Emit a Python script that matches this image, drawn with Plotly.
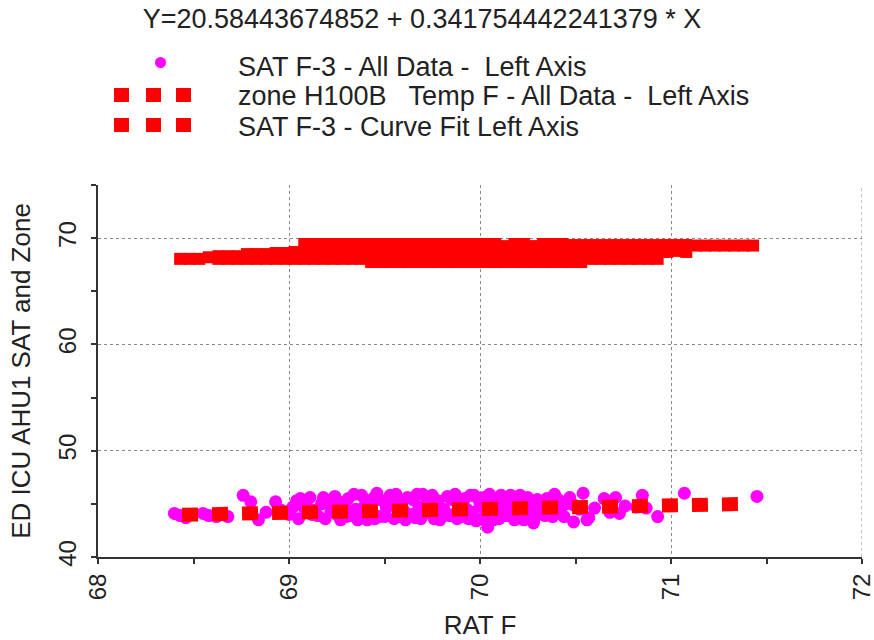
import plotly.graph_objects as go

# ---------------- data ----------------
title_text = "Y=20.58443674852 + 0.341754442241379 * X"
legend_labels = [
    "SAT F-3 - All Data -  Left Axis",
    "zone H100B   Temp F - All Data -  Left Axis",
    "SAT F-3 - Curve Fit Left Axis",
]
x_title = "RAT F"
y_title = "ED ICU AHU1 SAT and Zone"

# SAT F-3 (magenta points)
sat_x = [68.40, 68.43, 68.46, 68.55, 68.58, 68.62, 68.68, 68.76, 68.80, 68.84, 68.88, 68.93, 68.96, 69.02, 69.04,
         69.06, 69.08, 69.11, 69.12, 69.15, 69.17, 69.20, 69.22, 69.24, 69.27, 69.29, 69.31, 69.33, 69.35, 69.38,
         69.40, 69.41, 69.43, 69.46, 69.47, 69.49, 69.51, 69.53, 69.55, 69.57, 69.58, 69.60, 69.62, 69.65, 69.66,
         69.68, 69.70, 69.72, 69.74, 69.76, 69.77, 69.79, 69.81, 69.83, 69.85, 69.86, 69.88, 69.90, 69.91, 69.93,
         69.95, 69.97, 69.98, 70.00, 70.02, 70.04, 70.04, 70.06, 70.07, 70.09, 70.11, 70.13, 70.16, 70.18, 70.20,
         70.22, 70.24, 70.26, 70.28, 70.30, 70.33, 70.35, 70.38, 70.41, 70.42, 70.45, 70.49, 70.49, 70.52,
         70.54, 70.56, 70.57, 70.60, 70.65, 70.68, 70.71, 70.73, 70.76, 70.82, 70.85, 70.87, 70.93, 71.07, 71.45,
         69.00, 69.05, 69.09, 69.13, 69.18, 69.19, 69.25, 69.26, 69.30, 69.34, 69.36, 69.39, 69.44, 69.45,
         69.50, 69.52, 69.56, 69.59, 69.61, 69.64, 69.67, 69.69, 69.71, 69.75, 69.78, 69.80, 69.84, 69.87,
         69.89, 69.92, 69.94, 69.96, 69.99, 70.01, 70.03, 70.05, 70.08, 70.10, 70.12, 70.14, 70.17, 70.19,
         70.21, 70.23, 70.25, 70.27, 70.29, 70.31, 70.34, 70.36, 70.39, 70.44, 70.47]
sat_y = [44.1, 43.9, 43.7, 44.1, 43.9, 43.8, 43.8, 45.8, 45.2, 43.5, 44.2, 45.2, 44.4, 44.7, 45.3,
         45.5, 44.6, 45.6, 44.0, 43.9, 45.0, 45.1, 44.3, 45.7, 43.5, 44.8, 45.5, 43.9, 44.5, 45.8,
         45.0, 43.5, 44.2, 46.0, 43.8, 45.3, 44.6, 45.8, 43.6, 45.0, 43.8, 44.4, 45.6, 45.4, 43.7,
         44.7, 45.9, 45.6, 44.1, 43.6, 45.1, 43.5, 44.5, 45.7, 45.4, 44.0, 43.6, 43.8, 45.0, 44.5,
         45.8, 45.8, 43.4, 44.8, 45.6, 42.8, 45.4, 44.2, 43.5, 45.1, 45.8, 44.6, 45.8, 43.5, 44.9,
         45.3, 43.9, 44.4, 43.2, 45.4, 44.7, 45.5, 43.8, 45.4, 44.4, 45.0, 44.9, 43.3, 44.5,
         46.0, 43.5, 43.7, 44.6, 45.5, 44.2, 45.6, 44.1, 44.8, 44.7, 45.8, 44.6, 43.8, 46.0, 45.7,
         44.0, 43.6, 45.2, 44.4, 45.6, 43.6, 44.0, 45.2, 43.8, 45.9, 43.5, 44.1, 45.5, 43.6,
         43.8, 45.1, 45.9, 45.2, 43.5, 44.0, 45.9, 43.6, 44.3, 45.8, 45.3, 43.8, 43.9, 45.9,
         44.3, 45.5, 43.6, 44.2, 45.5, 43.6, 44.3, 45.9, 44.0, 43.6, 45.3, 43.9, 45.2, 44.2,
         45.8, 43.5, 45.6, 44.9, 43.8, 44.3, 43.9, 45.0, 45.9, 43.8, 45.6]

# zone H100B Temp F (red squares)
zone_x = [68.43, 68.48, 68.53, 68.58,
          68.63, 68.63, 68.68, 68.68, 68.73, 68.73,
          68.78, 68.78, 68.83, 68.83, 68.88, 68.88,
          68.93, 68.93, 68.98, 68.98, 69.03, 69.03,
          69.08, 69.08, 69.08, 69.13, 69.13, 69.13, 69.18, 69.18, 69.18, 69.23, 69.23, 69.23,
          69.28, 69.28, 69.28, 69.33, 69.33, 69.33, 69.38, 69.38, 69.38,
          69.43, 69.43, 69.43, 69.48, 69.48, 69.48, 69.53, 69.53, 69.53, 69.58, 69.58, 69.58,
          69.63, 69.63, 69.63, 69.68, 69.68, 69.68, 69.73, 69.73, 69.73, 69.78, 69.78, 69.78,
          69.83, 69.83, 69.83, 69.88, 69.88, 69.88, 69.93, 69.93, 69.93, 69.98, 69.98, 69.98,
          70.03, 70.03, 70.03, 70.08, 70.08, 70.08, 70.13, 70.13, 70.13, 70.18, 70.18, 70.18,
          70.23, 70.23, 70.23, 70.28, 70.28, 70.28, 70.33, 70.33, 70.33, 70.38, 70.38, 70.38,
          70.43, 70.43, 70.43, 70.48, 70.48, 70.48, 70.53, 70.53, 70.53,
          70.58, 70.58, 70.58, 70.63, 70.63, 70.63, 70.68, 70.68, 70.68, 70.73, 70.73, 70.73,
          70.78, 70.78, 70.78, 70.83, 70.83, 70.83, 70.88, 70.88, 70.88, 70.93, 70.93, 70.93,
          70.98, 70.98, 71.03, 71.03, 71.08, 71.08,
          71.13, 71.18, 71.23, 71.28, 71.33, 71.38, 71.43]
zone_y = [68.05, 68.05, 68.05, 68.2,
          68.05, 68.3, 68.05, 68.3, 68.05, 68.3,
          68.05, 68.5, 68.05, 68.5, 68.05, 68.5,
          68.05, 68.6, 68.05, 68.6, 68.05, 68.7,
          68.05, 68.75, 69.45, 68.05, 68.75, 69.45, 68.05, 68.75, 69.45, 68.05, 68.75, 69.45,
          68.05, 68.75, 69.45, 68.05, 68.75, 69.45, 68.05, 68.75, 69.45,
          67.75, 68.6, 69.45, 67.75, 68.6, 69.45, 67.75, 68.6, 69.45, 67.75, 68.6, 69.45,
          67.75, 68.6, 69.45, 67.75, 68.6, 69.45, 67.75, 68.6, 69.45, 67.75, 68.6, 69.45,
          67.75, 68.6, 69.45, 67.75, 68.6, 69.45, 67.75, 68.6, 69.45, 67.75, 68.6, 69.45,
          67.75, 68.6, 69.45, 67.75, 68.6, 69.45, 67.75, 68.6, 69.25, 67.75, 68.6, 69.45,
          67.75, 68.6, 69.45, 67.75, 68.6, 69.25, 67.75, 68.6, 69.45, 67.75, 68.6, 69.45,
          67.75, 68.6, 69.45, 67.75, 68.6, 69.35, 67.75, 68.6, 69.35,
          68.05, 68.7, 69.35, 68.05, 68.7, 69.35, 68.05, 68.7, 69.35, 68.05, 68.7, 69.35,
          68.05, 68.7, 69.35, 68.05, 68.7, 69.35, 68.05, 68.7, 69.35, 68.05, 68.7, 69.35,
          68.7, 69.35, 68.8, 69.35, 68.7, 69.35,
          69.3, 69.3, 69.3, 69.3, 69.3, 69.3, 69.3]

# curve fit endpoints
fit_x = [68.44, 71.42]
fit_y = [43.98, 45.00]

x_range = [68, 72]
y_range = [40, 75]

# ---------------- figure ----------------
MAGENTA = "#FF00FF"
RED = "#FF0000"
TXT = "#222222"
GRID = "#888888"
FONT = "Arial, Liberation Sans, sans-serif"

fig = go.Figure()
fig.add_trace(go.Scatter(x=sat_x, y=sat_y, mode="markers",
                         marker=dict(color=MAGENTA, size=13, line=dict(width=0)),
                         name=legend_labels[0]))
fig.add_trace(go.Scatter(x=zone_x, y=zone_y, mode="markers",
                         marker=dict(color=RED, size=12, symbol="square", line=dict(width=0)),
                         name=legend_labels[1]))
fig.add_trace(go.Scatter(x=fit_x, y=fit_y, mode="lines",
                         line=dict(color=RED, width=14, dash="16px,14px"),
                         name=legend_labels[2]))

W, H = 874, 640
L, R, T, B = 98, 12, 185, 83
PW, PH = W - L - R, H - T - B


def px2x(px):
    return (px - L) / PW


def py2y(py):
    return (H - B - py) / PH


shapes = []
annotations = []
# gridline at the right end of the x range
shapes.append(dict(type="line", xref="x", yref="paper", x0=x_range[1], x1=x_range[1], y0=0, y1=1,
                   line=dict(color=GRID, width=1, dash="dot"), layer="below"))
# legend row 1: magenta dot
shapes.append(dict(type="circle", xref="paper", yref="paper",
                   x0=px2x(155), x1=px2x(166), y0=py2y(68), y1=py2y(57),
                   fillcolor=MAGENTA, line=dict(width=0)))
# legend rows 2 and 3: three red squares
for cy in (95, 125):
    for sx in (114, 146, 176):
        shapes.append(dict(type="rect", xref="paper", yref="paper",
                           x0=px2x(sx), x1=px2x(sx + 15), y0=py2y(cy + 7), y1=py2y(cy - 7),
                           fillcolor=RED, line=dict(width=0)))
for label, cy in zip(legend_labels, (67, 96, 127)):
    annotations.append(dict(text=label, xref="paper", yref="paper", x=px2x(236), y=py2y(cy),
                            xanchor="left", yanchor="middle", showarrow=False,
                            font=dict(family=FONT, size=27, color=TXT)))

axis_common = dict(showline=True, linecolor="#333333", linewidth=2,
                   ticks="outside", ticklen=5, tickwidth=1.5, tickcolor="#333333",
                   tickangle=-90, tickfont=dict(family=FONT, size=24, color=TXT),
                   showgrid=True, gridcolor=GRID, griddash="dot", gridwidth=1,
                   zeroline=False, automargin=False, ticklabeloverflow="allow")

fig.update_layout(
    width=W, height=H,
    margin=dict(l=L, r=R, t=T, b=B, autoexpand=False),
    plot_bgcolor="white", paper_bgcolor="white",
    showlegend=False,
    font=dict(family=FONT, color=TXT),
    title=dict(text=title_text, x=422 / W, xref="container", xanchor="center",
               y=1 - 19 / H, yref="container", yanchor="middle",
               font=dict(family=FONT, size=27, color=TXT)),
    shapes=shapes,
    annotations=annotations,
    xaxis=dict(range=x_range, tick0=68, dtick=1,
               minor=dict(dtick=0.5, ticks="outside", ticklen=5, tickcolor="#333333", showgrid=False),
               title=dict(text=x_title, font=dict(family=FONT, size=26, color=TXT), standoff=16),
               **axis_common),
    yaxis=dict(range=y_range, tick0=40, dtick=10, ticklabelstandoff=5,
               minor=dict(dtick=5, ticks="outside", ticklen=5, tickcolor="#333333", showgrid=False),
               title=dict(text=y_title, font=dict(family=FONT, size=26, color=TXT), standoff=16),
               **axis_common),
)

fig.write_html("out.html", config={"displayModeBar": False},
               post_script="document.body.style.margin='0';document.body.style.overflow='hidden';")
